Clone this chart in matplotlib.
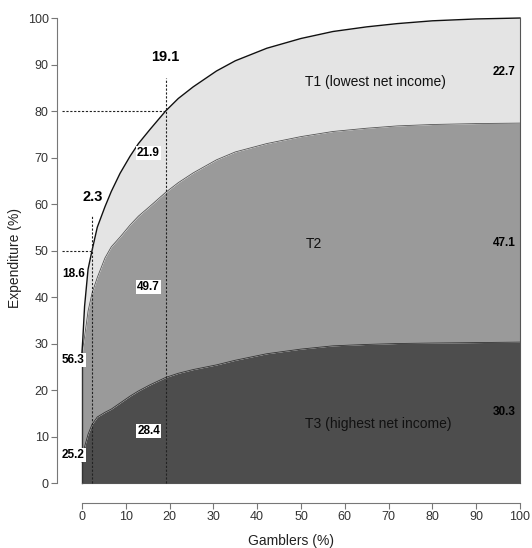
import matplotlib
matplotlib.use("Agg")
import matplotlib.pyplot as plt

plt.rcParams['font.family'] = ['Liberation Sans', 'DejaVu Sans']

# cumulative share of expenditure (%) against cumulative share of gamblers (%)
gamblers = [0, 0.2, 0.6, 1.4, 2.3, 3.5, 5.25, 6.7, 8.7, 11, 12.9, 15.5, 19.1,
            22, 25.4, 30.7, 35, 42.2, 50, 57.3, 65, 72, 80, 90, 100]
t3_top = [4.5, 6, 7.8, 10.5, 12.6, 14.2, 15.2, 15.9, 17.2, 18.7, 19.8, 21.1,
          22.7, 23.6, 24.4, 25.4, 26.4, 27.8, 28.8, 29.5, 29.8, 30, 30.1,
          30.2, 30.3]
t2_top = [27, 29, 31.5, 37, 40.8, 44.2, 48.4, 50.8, 52.9, 55.5, 57.4, 59.5, 62.5,
          64.6, 66.7, 69.5, 71.2, 73.0, 74.5, 75.6, 76.3, 76.8, 77.1, 77.3,
          77.4]
t1_top = [28, 31, 38, 46, 50, 55, 59.4, 62.7, 66.6, 70.3, 73, 76, 80, 82.7,
          85.2, 88.6, 90.8, 93.5, 95.6, 97.1, 98.1, 98.8, 99.4, 99.8, 100]

# marked cut points and the tercile shares of expenditure there
cut_x = [2.3, 19.1]
cut_y = [50, 80]
t1_share = [18.6, 21.9, 22.7]
t2_share = [56.3, 49.7, 47.1]
t3_share = [25.2, 28.4, 30.3]

fig = plt.figure(figsize=(5.32, 5.48), dpi=100)
ax = fig.add_axes([0.1071, 0.0821, 0.8786, 0.8935])

ax.fill_between(gamblers, 0, t3_top, color='#4d4d4d', lw=0)
ax.fill_between(gamblers, t3_top, t2_top, color='#9a9a9a', lw=0)
ax.fill_between(gamblers, t2_top, t1_top, color='#e4e4e4', lw=0)
ax.plot(gamblers, t3_top, color='#333333', lw=0.6)
ax.plot(gamblers, t2_top, color='#555555', lw=0.6)
ax.plot(gamblers, t1_top, color='#111111', lw=1.0)
ax.plot([0, 0], [0, t1_top[0]], color='#333333', lw=1.0)
ax.plot([100, 100], [0, 100], color='#555555', lw=0.8)
ax.plot([0, 100], [0, 0], color='#555555', lw=0.8)

# dashed guides
dash = dict(ls=(0, (2, 1.5)), color='#222222', lw=0.8)
ax.plot([-4.5, cut_x[0]], [cut_y[0], cut_y[0]], **dash)
ax.plot([cut_x[0], cut_x[0]], [0, 57.5], **dash)
ax.plot([-4.5, cut_x[1]], [cut_y[1], cut_y[1]], **dash)
ax.plot([cut_x[1], cut_x[1]], [0, 87], **dash)

ax.text(2.5, 61.5, f"{cut_x[0]}", fontsize=10.5, fontweight='bold', ha='center', va='center')
ax.text(19.1, 91.6, f"{cut_x[1]}", fontsize=10.5, fontweight='bold', ha='center', va='center')

box = dict(facecolor='white', edgecolor='none', pad=0.8)
lab = dict(fontsize=8.5, fontweight='bold', va='center')
ax.text(0.6, 45, f"{t1_share[0]}", ha='right', bbox=box, **lab)
ax.text(0.6, 26.5, f"{t2_share[0]}", ha='right', bbox=box, **lab)
ax.text(0.6, 6, f"{t3_share[0]}", ha='right', bbox=box, **lab)
ax.text(15.2, 71, f"{t1_share[1]}", ha='center', bbox=box, **lab)
ax.text(15.2, 42.2, f"{t2_share[1]}", ha='center', bbox=box, **lab)
ax.text(15.2, 11.2, f"{t3_share[1]}", ha='center', bbox=box, **lab)
ax.text(99, 88.4, f"{t1_share[2]}", ha='right', **lab)
ax.text(99, 51.6, f"{t2_share[2]}", ha='right', **lab)
ax.text(99, 15.3, f"{t3_share[2]}", ha='right', **lab)

ax.text(51, 86.2, "T1 (lowest net income)", fontsize=10, va='center', color='#111111')
ax.text(51, 51.4, "T2", fontsize=10, va='center', color='#111111')
ax.text(51, 12.7, "T3 (highest net income)", fontsize=10, va='center', color='#111111')

ax.set_xlim(-5.7, 101)
ax.set_ylim(-4.3, 101)
for s in ['top', 'right']:
    ax.spines[s].set_visible(False)
ax.spines['left'].set_bounds(0, 100)
ax.spines['bottom'].set_bounds(0, 100)
ax.spines['left'].set_color('#777777')
ax.spines['bottom'].set_color('#777777')
ax.set_xticks(range(0, 101, 10))
ax.set_yticks(range(0, 101, 10))
ax.tick_params(colors='#777777', labelcolor='#333333', labelsize=9, length=4, pad=2)
ax.set_xlabel("Gamblers (%)", fontsize=10, color='#222222', labelpad=8)
ax.set_ylabel("Expenditure (%)", fontsize=10, color='#222222', labelpad=4)

fig.savefig("out.png", dpi=100)
